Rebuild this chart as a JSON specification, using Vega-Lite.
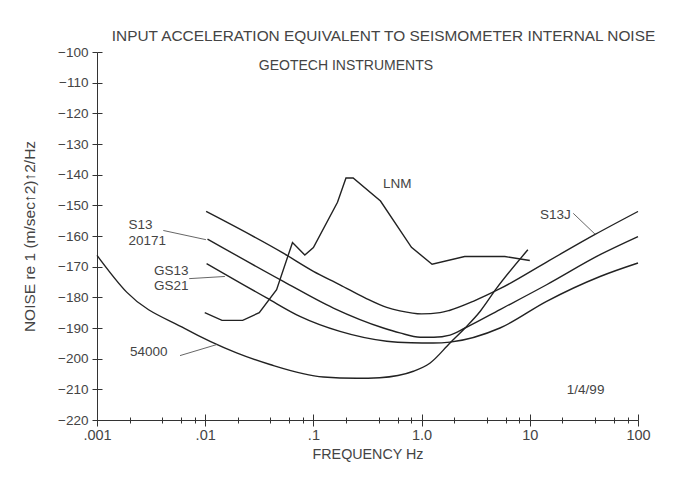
{
  "$schema": "https://vega.github.io/schema/vega-lite/v6.json",
  "width": 541,
  "height": 368,
  "autosize": "none",
  "padding": {"left": 97, "top": 52, "right": 40, "bottom": 61},
  "background": "white",
  "config": {
    "view": {"stroke": null},
    "font": "Liberation Sans",
    "axis": {"grid": false, "domainColor": "#333", "tickColor": "#333", "labelColor": "#444", "titleColor": "#444", "labelFontSize": 13, "titleFontSize": 14, "titleFontWeight": "normal", "labelFont": "Liberation Sans", "titleFont": "Liberation Sans"}
  },
  "title": {
    "text": "INPUT ACCELERATION EQUIVALENT TO SEISMOMETER INTERNAL NOISE",
    "anchor": "middle",
    "frame": "group",
    "dx": 16,
    "offset": 1,
    "fontSize": 15.4,
    "fontWeight": "normal",
    "color": "#444",
    "font": "Liberation Sans"
  },
  "datasets": {
    "curves": [
      {"series": "S13J", "f": 0.0102, "db": -152.0},
      {"series": "S13J", "f": 0.0527, "db": -165.6},
      {"series": "S13J", "f": 0.1, "db": -171.5},
      {"series": "S13J", "f": 0.176, "db": -175.9},
      {"series": "S13J", "f": 0.3, "db": -180.2},
      {"series": "S13J", "f": 0.476, "db": -183.3},
      {"series": "S13J", "f": 0.63, "db": -184.4},
      {"series": "S13J", "f": 1.0, "db": -185.4},
      {"series": "S13J", "f": 1.48, "db": -185.0},
      {"series": "S13J", "f": 1.83, "db": -184.2},
      {"series": "S13J", "f": 3.0, "db": -181.3},
      {"series": "S13J", "f": 5.3, "db": -177.2},
      {"series": "S13J", "f": 14.3, "db": -168.5},
      {"series": "S13J", "f": 40.1, "db": -159.5},
      {"series": "S13J", "f": 100, "db": -152.0},
      {"series": "S13", "f": 0.0105, "db": -161.0},
      {"series": "S13", "f": 0.0527, "db": -174.8},
      {"series": "S13", "f": 0.153, "db": -183.5},
      {"series": "S13", "f": 0.443, "db": -190.0},
      {"series": "S13", "f": 0.63, "db": -191.6},
      {"series": "S13", "f": 0.97, "db": -193.0},
      {"series": "S13", "f": 1.3, "db": -193.0},
      {"series": "S13", "f": 1.83, "db": -192.3},
      {"series": "S13", "f": 2.52, "db": -190.0},
      {"series": "S13", "f": 5.3, "db": -184.0},
      {"series": "S13", "f": 14.3, "db": -175.9},
      {"series": "S13", "f": 44.6, "db": -166.1},
      {"series": "S13", "f": 100, "db": -160.2},
      {"series": "GS13", "f": 0.0103, "db": -169.0},
      {"series": "GS13", "f": 0.037, "db": -180.2},
      {"series": "GS13", "f": 0.075, "db": -186.2},
      {"series": "GS13", "f": 0.176, "db": -191.1},
      {"series": "GS13", "f": 0.476, "db": -194.3},
      {"series": "GS13", "f": 0.8, "db": -194.8},
      {"series": "GS13", "f": 1.28, "db": -194.9},
      {"series": "GS13", "f": 1.83, "db": -194.6},
      {"series": "GS13", "f": 5.3, "db": -190.0},
      {"series": "GS13", "f": 14.3, "db": -181.3},
      {"series": "GS13", "f": 44.6, "db": -173.2},
      {"series": "GS13", "f": 100, "db": -168.8},
      {"series": "54000", "f": 0.001, "db": -166.3},
      {"series": "54000", "f": 0.00188, "db": -178.3},
      {"series": "54000", "f": 0.0065, "db": -190.2},
      {"series": "54000", "f": 0.0195, "db": -198.1},
      {"series": "54000", "f": 0.0397, "db": -201.9},
      {"series": "54000", "f": 0.1236, "db": -206.0},
      {"series": "54000", "f": 0.251, "db": -206.4},
      {"series": "54000", "f": 0.41, "db": -206.2},
      {"series": "54000", "f": 0.84, "db": -204.1},
      {"series": "54000", "f": 1.2, "db": -201.4},
      {"series": "54000", "f": 1.83, "db": -194.9},
      {"series": "54000", "f": 2.52, "db": -190.0},
      {"series": "54000", "f": 3.47, "db": -184.6},
      {"series": "54000", "f": 4.94, "db": -177.0},
      {"series": "54000", "f": 9.6, "db": -164.5}
    ],
    "lnm": [
      {"f": 0.0099, "db": -185.0},
      {"f": 0.0143, "db": -187.5},
      {"f": 0.0222, "db": -187.5},
      {"f": 0.0316, "db": -185.0},
      {"f": 0.0457, "db": -177.5},
      {"f": 0.0641, "db": -162.1},
      {"f": 0.0833, "db": -166.2},
      {"f": 0.1, "db": -163.8},
      {"f": 0.167, "db": -149.0},
      {"f": 0.2, "db": -141.1},
      {"f": 0.233, "db": -141.1},
      {"f": 0.417, "db": -148.6},
      {"f": 0.806, "db": -163.7},
      {"f": 1.25, "db": -169.2},
      {"f": 2.5, "db": -166.7},
      {"f": 5.88, "db": -166.7},
      {"f": 10, "db": -168.0}
    ],
    "leaders": [
      {"name": "S13J", "f1": 25.2, "db1": -152.6, "f2": 40.1, "db2": -159.4},
      {"name": "S13", "f1": 0.0041, "db1": -158.2, "f2": 0.01016, "db2": -161.2},
      {"name": "GS13", "f1": 0.00711, "db1": -173.9, "f2": 0.0152, "db2": -173.2},
      {"name": "54000", "f1": 0.00585, "db1": -199.0, "f2": 0.0128, "db2": -195.4}
    ],
    "labels": [
      {"text": "LNM", "f": 0.44, "db": -142.9},
      {"text": "S13J", "f": 12.4, "db": -153.1},
      {"text": "S13", "f": 0.00195, "db": -156.4},
      {"text": "20171", "f": 0.00195, "db": -161.5},
      {"text": "GS13", "f": 0.00337, "db": -171.5},
      {"text": "GS21", "f": 0.00337, "db": -176.4},
      {"text": "54000", "f": 0.00202, "db": -197.8},
      {"text": "1/4/99", "f": 22, "db": -210.2}
    ],
    "subtitle": [
      {"text": "GEOTECH INSTRUMENTS", "f": 0.2, "db": -104.6}
    ]
  },
  "layer": [
    {
      "data": {"name": "curves"},
      "mark": {"type": "line", "color": "#222", "strokeWidth": 1.4, "interpolate": "monotone"},
      "encoding": {
        "x": {
          "field": "f", "type": "quantitative",
          "scale": {"type": "log", "domain": [0.001, 100]},
          "axis": {
            "orient": "bottom",
            "values": [0.001, 0.002, 0.004, 0.006, 0.008, 0.01, 0.02, 0.04, 0.06, 0.08, 0.1, 0.2, 0.4, 0.6, 0.8, 1, 2, 4, 6, 8, 10, 20, 40, 60, 80, 100],
            "labelExpr": "datum.value == 0.001 ? '.001' : datum.value == 0.01 ? '.01' : datum.value == 0.1 ? '.1' : datum.value == 1 ? '1.0' : datum.value == 10 ? '10' : datum.value == 100 ? '100' : ''",
            "tickSize": {"condition": {"test": "datum.value == 0.001 || datum.value == 0.01 || datum.value == 0.1 || datum.value == 1 || datum.value == 10 || datum.value == 100", "value": 6}, "value": 3},
            "labelFlush": false,
            "labelOverlap": false,
            "labelFontSize": 14.5,
            "labelPadding": 2,
            "title": "FREQUENCY Hz",
            "titleFontSize": 14.3,
            "titlePadding": 6
          }
        },
        "y": {
          "field": "db", "type": "quantitative",
          "scale": {"domain": [-220, -100], "nice": false, "zero": false},
          "axis": {
            "orient": "left",
            "values": [-220, -210, -200, -190, -180, -170, -160, -150, -140, -130, -120, -110, -100],
            "tickSize": 5,
            "labelPadding": 4,
            "labelFontSize": 13.5,
            "title": "NOISE re 1 (m/sec↑2)↑2/Hz",
            "titleFontSize": 15.5,
            "titlePadding": 20
          }
        },
        "detail": {"field": "series"}
      }
    },
    {
      "data": {"name": "lnm"},
      "mark": {"type": "line", "color": "#222", "strokeWidth": 1.4},
      "encoding": {
        "x": {
          "field": "f", "type": "quantitative",
          "scale": {"type": "log", "domain": [0.001, 100]},
          "axis": {
            "orient": "bottom",
            "values": [0.001, 0.002, 0.004, 0.006, 0.008, 0.01, 0.02, 0.04, 0.06, 0.08, 0.1, 0.2, 0.4, 0.6, 0.8, 1, 2, 4, 6, 8, 10, 20, 40, 60, 80, 100],
            "labels": false,
            "domain": false,
            "tickSize": {"condition": {"test": "datum.value == 0.001 || datum.value == 0.01 || datum.value == 0.1 || datum.value == 1 || datum.value == 10 || datum.value == 100", "value": -6}, "value": -3},
            "title": null
          }
        },
        "y": {
          "field": "db", "type": "quantitative",
          "scale": {"domain": [-220, -100], "nice": false, "zero": false},
          "axis": {
            "orient": "left",
            "values": [-220, -210, -200, -190, -180, -170, -160, -150, -140, -130, -120, -110, -100],
            "labels": false,
            "domain": false,
            "tickSize": -5,
            "title": null
          }
        }
      }
    },
    {
      "data": {"name": "leaders"},
      "mark": {"type": "rule", "color": "#555", "strokeWidth": 0.9},
      "encoding": {
        "x": {"field": "f1", "type": "quantitative", "scale": {"type": "log", "domain": [0.001, 100]}, "axis": null},
        "x2": {"field": "f2"},
        "y": {"field": "db1", "type": "quantitative", "scale": {"domain": [-220, -100], "nice": false, "zero": false}, "axis": null},
        "y2": {"field": "db2"}
      }
    },
    {
      "data": {"name": "labels"},
      "mark": {"type": "text", "align": "left", "baseline": "middle", "fontSize": 13.5, "color": "#444", "font": "Liberation Sans"},
      "encoding": {
        "x": {"field": "f", "type": "quantitative", "scale": {"type": "log", "domain": [0.001, 100]}, "axis": null},
        "y": {"field": "db", "type": "quantitative", "scale": {"domain": [-220, -100], "nice": false, "zero": false}, "axis": null},
        "text": {"field": "text"}
      }
    },
    {
      "data": {"name": "subtitle"},
      "mark": {"type": "text", "align": "center", "baseline": "middle", "fontSize": 14, "color": "#444", "font": "Liberation Sans"},
      "encoding": {
        "x": {"field": "f", "type": "quantitative", "scale": {"type": "log", "domain": [0.001, 100]}, "axis": null},
        "y": {"field": "db", "type": "quantitative", "scale": {"domain": [-220, -100], "nice": false, "zero": false}, "axis": null},
        "text": {"field": "text"}
      }
    }
  ],
  "resolve": {"axis": {"x": "independent", "y": "independent"}}
}
